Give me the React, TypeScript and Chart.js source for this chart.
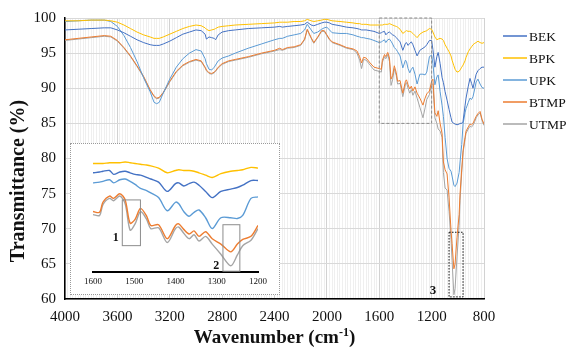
import React, { useEffect, useRef } from "react";
import { Chart, registerables } from "chart.js";

Chart.register(...registerables);

const SERIF = '"Liberation Serif", "Times New Roman", serif';

// Wavenumber (cm-1) sample positions
const wavenumbers = [
  4000, 3900, 3800, 3700, 3650, 3600, 3550, 3500, 3450, 3400,
  3350, 3320, 3300, 3280, 3250, 3200, 3150, 3100, 3050, 3000,
  2960, 2930, 2920, 2900, 2880, 2860, 2850, 2830, 2800, 2750,
  2700, 2600, 2500, 2400, 2360, 2340, 2300, 2250, 2200, 2170,
  2150, 2120, 2100, 2070, 2040, 2020, 2000, 1980, 1960, 1900,
  1850, 1800, 1770, 1750, 1735, 1720, 1700, 1670, 1640, 1600,
  1584, 1576, 1560, 1550, 1535, 1522, 1510, 1498, 1485, 1470,
  1460, 1441, 1420, 1400, 1392, 1380, 1367, 1355, 1343, 1327,
  1311, 1290, 1266, 1250, 1237, 1217, 1200, 1190, 1175, 1160,
  1150, 1135, 1120, 1110, 1097, 1082, 1067, 1052, 1044, 1030,
  1021, 1006, 990, 983, 970, 960, 945, 937, 920, 907,
  895, 884, 870, 860, 846, 830, 815, 800,
];

const BEK = [
  98.3, 98.4, 98.5, 98.6, 98.6, 98.3, 97.9, 97.4, 96.9, 96.5,
  96.2, 96.1, 96.1, 96.1, 96.3, 96.7, 97.2, 97.7, 98.0, 98.3,
  98.2, 97.7, 97.0, 97.3, 97.2, 97.1, 96.9, 97.6, 98.0, 98.2,
  98.3, 98.5, 98.6, 98.7, 98.8, 98.7, 98.8, 98.9, 99.0, 99.1,
  99.4, 99.0, 98.9, 99.1, 99.3, 99.4, 99.4, 99.3, 99.1, 98.9,
  98.7, 98.6, 98.5, 98.4, 98.3, 98.3, 98.3, 98.2, 98.1, 97.8,
  97.9, 98.0, 98.1, 97.6, 97.9, 98.0, 97.8, 97.6, 97.5, 97.2,
  97.0, 96.6, 95.4, 96.4, 96.5, 96.1, 96.4, 96.6, 96.2, 95.4,
  94.6, 95.4, 95.7, 95.9, 96.2, 96.8, 96.8, 95.5, 93.0, 94.5,
  95.1, 93.5, 91.5, 90.8, 89.5, 88.3, 87.0, 85.8, 85.2, 85.0,
  84.9, 84.8, 84.9, 85.0, 85.0, 85.3, 87.5, 88.6, 90.3, 91.4,
  90.7, 90.0, 91.2, 92.0, 92.5, 92.8, 93.0, 93.0,
];

const BPK = [
  99.6, 99.6, 99.7, 99.7, 99.6, 99.4, 99.0, 98.5, 98.0, 97.6,
  97.3, 97.1, 97.1, 97.1, 97.3, 97.7, 98.1, 98.5, 98.8, 99.0,
  98.9, 98.6, 98.4, 98.2, 98.3, 98.4, 98.5, 98.7, 98.8, 98.9,
  99.0, 99.1, 99.2, 99.3, 99.4, 99.4, 99.4, 99.5, 99.5, 99.6,
  99.8, 99.6, 99.5, 99.6, 99.7, 99.8, 99.8, 99.7, 99.6, 99.5,
  99.4, 99.3, 99.2, 99.2, 99.1, 99.1, 99.1, 99.0, 99.0, 99.0,
  99.0, 99.0, 99.1, 99.1, 99.1, 99.2, 99.1, 99.0, 98.9, 98.8,
  98.7, 98.4, 97.8, 98.1, 98.2, 98.1, 98.1, 98.0, 97.8, 97.5,
  97.2, 97.7, 98.0, 98.1, 98.2, 98.5, 98.4, 98.0, 97.3, 96.9,
  97.0, 97.1, 97.0, 96.8, 96.2, 95.7, 95.2, 94.6, 94.0, 93.2,
  92.7, 92.3, 92.4, 92.6, 93.0, 93.3, 93.9, 94.4, 95.2, 95.6,
  95.9, 96.2, 96.4, 96.5, 96.7, 96.5, 96.4, 96.5,
];

const UPK = [
  99.5, 99.6, 99.7, 99.7, 99.5, 98.8, 97.5, 95.8, 93.8, 91.5,
  89.5, 88.0, 87.8, 88.0, 89.3, 91.3, 93.0, 94.2, 95.0, 95.5,
  95.3, 94.2, 93.5, 92.7, 92.6, 93.0, 93.3, 93.9, 94.3, 94.6,
  95.0, 95.7, 96.3, 96.9, 97.1, 97.1, 97.4, 97.6, 97.8, 98.3,
  99.1, 98.3, 97.8, 98.0, 98.4, 98.6, 98.7, 98.3, 97.9, 97.8,
  97.8, 97.6, 97.4, 97.3, 97.2, 97.2, 97.1, 97.0, 96.8, 96.5,
  96.6, 96.7, 96.9, 96.5, 96.9, 97.0, 96.7, 96.3, 95.8, 95.5,
  95.2, 94.6, 92.9, 94.0, 93.8, 92.8, 92.2, 92.7, 93.0, 92.0,
  90.6, 92.0, 92.0, 91.9, 92.3, 94.5, 94.7, 93.5, 90.5, 91.6,
  91.9, 89.5, 87.5, 86.0, 83.0, 80.0, 78.6, 78.2, 77.5, 76.2,
  76.0, 76.5, 78.0, 79.5, 82.0, 84.9, 86.5, 87.1, 88.0, 88.6,
  88.4, 88.8, 90.0, 90.9, 91.3, 90.6, 90.1, 90.0,
];

const BTMP = [
  96.9, 97.1, 97.3, 97.5, 97.4, 96.8, 95.8, 94.6, 93.2, 91.7,
  89.8, 88.9, 88.6, 88.7, 89.4, 91.0, 92.4, 93.3, 93.8, 94.1,
  93.9, 93.0, 92.6, 92.2, 92.1, 92.3, 92.5, 93.0, 93.5, 93.9,
  94.1, 94.5, 95.0, 95.4, 95.7, 95.5, 95.8, 95.9, 96.2, 97.0,
  98.4, 97.2, 96.5, 97.3, 98.2, 98.2, 97.6, 97.0, 96.6, 96.2,
  95.8, 95.6, 95.3, 94.5, 93.6, 94.4, 94.3, 93.6, 93.0, 92.8,
  92.7, 94.0, 94.8, 94.5, 95.1, 94.3, 91.3, 91.8, 93.2, 92.2,
  91.0, 91.1, 89.3, 91.0, 91.2, 90.5, 89.9, 90.3, 89.6, 90.2,
  89.3, 88.6, 87.6, 88.6, 89.2, 89.6, 91.0, 91.3, 86.5, 86.0,
  86.8, 85.0, 83.5, 79.5, 78.4, 77.8, 74.5, 69.8, 67.9, 64.3,
  65.0, 68.8, 72.0, 75.0, 78.5, 81.1, 83.0, 83.9, 84.5, 84.9,
  84.8, 85.0, 85.6, 86.0, 86.4, 86.7, 85.6, 84.9,
];

const UTMP = [
  96.8, 97.0, 97.2, 97.4, 97.3, 96.7, 95.7, 94.5, 93.1, 91.6,
  89.7, 88.8, 88.5, 88.6, 89.3, 90.9, 92.3, 93.2, 93.7, 94.0,
  93.8, 92.9, 92.5, 92.1, 92.0, 92.2, 92.4, 92.9, 93.4, 93.8,
  94.0, 94.4, 94.9, 95.3, 95.5, 95.4, 95.7, 95.8, 96.1, 96.9,
  98.3, 97.1, 96.4, 97.2, 98.1, 98.1, 97.5, 96.9, 96.5, 96.1,
  95.7, 95.5, 95.0, 94.0, 92.8, 94.1, 94.0, 93.3, 92.6, 92.4,
  92.3, 93.7, 94.5, 94.2, 94.8, 93.8, 90.4, 91.2, 92.8, 91.8,
  90.6, 90.7, 88.8, 90.6, 90.8, 90.0, 89.3, 89.8, 89.0, 89.6,
  88.6, 87.3, 85.8, 87.2, 88.4, 89.1, 90.6, 90.6, 85.8, 85.0,
  84.2, 83.9, 83.0, 78.0, 75.8, 75.5, 72.5, 68.5, 65.5, 60.6,
  61.5, 66.0, 70.5, 74.0, 78.0, 80.8, 82.7, 83.6, 84.2, 84.6,
  84.5, 84.7, 85.3, 85.8, 86.2, 86.5, 85.4, 84.7,
];

const seriesNames = ["BEK", "BPK", "UPK", "BTMP", "UTMP"];
const seriesValues = [BEK, BPK, UPK, BTMP, UTMP];
const seriesColors = ["#4472C4", "#FFC000", "#5B9BD5", "#ED7D31", "#A5A5A5"];

const xTickLabels = [4000, 3600, 3200, 2800, 2400, 2000, 1600, 1200, 800];
const yTickLabels = [60, 65, 70, 75, 80, 85, 90, 95, 100];
const insetTickLabels = [1600, 1500, 1400, 1300, 1200];

// annotation regions (data units)
const zoomRegion = { x0: 1600, x1: 1200, y0: 85, y1: 100 };
const region3 = { x0: 1067, x1: 960, y0: 60.3, y1: 69.5, labelX: 1190, labelY: 61.2 };
const insetRegion1 = { x0: 1529, x1: 1485, y0: 88.4, y1: 94.3, labelX: 1545, labelY: 89.4 };
const insetRegion2 = { x0: 1285, x1: 1244, y0: 85.1, y1: 91.1, labelX: 1301, labelY: 85.8 };

function makeDatasets(filter: (x: number) => boolean, width: number, tension: number) {
  return seriesNames.map((name, i) => ({
    label: name,
    data: wavenumbers
      .map((x, j) => ({ x, y: seriesValues[i][j] }))
      .filter((p) => filter(p.x)),
    borderColor: seriesColors[i],
    backgroundColor: seriesColors[i],
    borderWidth: width,
    pointRadius: 0,
    fill: false,
    tension,
  }));
}

const mainDecor = {
  id: "mainDecor",
  afterDatasetsDraw(chart: any) {
    const { ctx, scales } = chart;
    const xs = scales.x;
    const ys = scales.y;
    ctx.save();
    // dashed zoom region
    ctx.strokeStyle = "#8a8a8a";
    ctx.lineWidth = 1;
    ctx.setLineDash([3, 2]);
    const zx0 = xs.getPixelForValue(zoomRegion.x0);
    const zx1 = xs.getPixelForValue(zoomRegion.x1);
    const zy0 = ys.getPixelForValue(zoomRegion.y1);
    const zy1 = ys.getPixelForValue(zoomRegion.y0);
    ctx.strokeRect(zx0, zy0, zx1 - zx0, zy1 - zy0);
    // dotted region 3
    ctx.strokeStyle = "#111";
    ctx.setLineDash([1.5, 1.5]);
    const rx0 = xs.getPixelForValue(region3.x0);
    const rx1 = xs.getPixelForValue(region3.x1);
    const ry0 = ys.getPixelForValue(region3.y1);
    const ry1 = ys.getPixelForValue(region3.y0);
    ctx.strokeRect(rx0, ry0, rx1 - rx0, ry1 - ry0);
    ctx.setLineDash([]);
    ctx.fillStyle = "#111";
    ctx.font = `bold 13px ${SERIF}`;
    ctx.textAlign = "center";
    ctx.textBaseline = "middle";
    ctx.fillText("3", xs.getPixelForValue(region3.labelX), ys.getPixelForValue(region3.labelY));

    // legend
    ctx.font = `13.5px ${SERIF}`;
    ctx.textAlign = "left";
    chart.data.datasets.forEach((ds: any, i: number) => {
      const y = 36 + i * 22;
      ctx.strokeStyle = ds.borderColor;
      ctx.lineWidth = 1.5;
      ctx.beginPath();
      ctx.moveTo(503, y);
      ctx.lineTo(527, y);
      ctx.stroke();
      ctx.fillStyle = "#111";
      ctx.fillText(ds.label, 529, y + 1);
    });

    // axis titles
    ctx.fillStyle = "#111";
    ctx.save();
    ctx.translate(19, 181);
    ctx.rotate(-Math.PI / 2);
    ctx.textAlign = "center";
    ctx.font = `bold 20px ${SERIF}`;
    ctx.fillText("Transmittance (%)", 0, 0);
    ctx.restore();

    const cx = (chart.chartArea.left + chart.chartArea.right) / 2;
    const base = 343;
    const p1 = "Wavenumber (cm";
    const p2 = "-1";
    const p3 = ")";
    ctx.textBaseline = "alphabetic";
    ctx.textAlign = "left";
    ctx.font = `bold 19px ${SERIF}`;
    const w1 = ctx.measureText(p1).width;
    const w3 = ctx.measureText(p3).width;
    ctx.font = `bold 12px ${SERIF}`;
    const w2 = ctx.measureText(p2).width;
    let x = cx - (w1 + w2 + w3) / 2;
    ctx.font = `bold 19px ${SERIF}`;
    ctx.fillText(p1, x, base);
    x += w1;
    ctx.font = `bold 12px ${SERIF}`;
    ctx.fillText(p2, x, base - 7);
    x += w2;
    ctx.font = `bold 19px ${SERIF}`;
    ctx.fillText(p3, x, base);
    ctx.restore();
  },
};

const insetDecor = {
  id: "insetDecor",
  afterDatasetsDraw(chart: any) {
    const { ctx, scales } = chart;
    const xs = scales.x;
    const ys = scales.y;
    ctx.save();
    ctx.strokeStyle = "#8c8c8c";
    ctx.lineWidth = 1;
    ctx.fillStyle = "#111";
    ctx.font = `bold 12px ${SERIF}`;
    ctx.textAlign = "center";
    ctx.textBaseline = "middle";
    [insetRegion1, insetRegion2].forEach((r, i) => {
      const x0 = xs.getPixelForValue(r.x0);
      const x1 = xs.getPixelForValue(r.x1);
      const y0 = ys.getPixelForValue(r.y1);
      const y1 = ys.getPixelForValue(r.y0);
      ctx.strokeRect(x0, y0, x1 - x0, y1 - y0);
      ctx.fillText(String(i + 1), xs.getPixelForValue(r.labelX), ys.getPixelForValue(r.labelY));
    });
    ctx.restore();
  },
};

export default function App() {
  const mainRef = useRef<HTMLCanvasElement | null>(null);
  const insetRef = useRef<HTMLCanvasElement | null>(null);

  useEffect(() => {
    document.body.style.margin = "0";
    Chart.defaults.font.family = SERIF;
    const tickFont = { family: SERIF, size: 15 };

    const main = new Chart(mainRef.current as HTMLCanvasElement, {
      type: "line",
      data: { datasets: makeDatasets(() => true, 1, 0) as any },
      options: {
        responsive: false,
        animation: false,
        devicePixelRatio: 1,
        layout: { padding: { top: 16, right: 83, left: 0, bottom: 0 } },
        plugins: { legend: { display: false }, tooltip: { enabled: false } },
        scales: {
          x: {
            type: "linear",
            reverse: true,
            min: 800,
            max: 4000,
            ticks: {
              stepSize: 20,
              autoSkip: false,
              maxRotation: 0,
              minRotation: 0,
              padding: 9,
              color: "#111",
              font: tickFont,
              callback: (v: any) => (xTickLabels.includes(Number(v)) ? String(v) : ""),
            },
            grid: {
              drawTicks: false,
              lineWidth: 1,
              color: (c: any) =>
                c.tick && xTickLabels.includes(c.tick.value) ? "#d2d2d2" : "#efefef",
            },
            border: { display: true, color: "#000", width: 1.5 },
            afterFit: (s: any) => {
              s.height = 50;
            },
          },
          y: {
            min: 60,
            max: 100,
            ticks: {
              stepSize: 5,
              padding: 9,
              color: "#111",
              font: tickFont,
              callback: (v: any) => (yTickLabels.includes(Number(v)) ? String(v) : ""),
            },
            grid: { drawTicks: false, color: "#d9d9d9", lineWidth: 1 },
            border: { display: true, color: "#000", width: 1.5 },
            afterFit: (s: any) => {
              s.width = 65;
            },
          },
        },
      } as any,
      plugins: [mainDecor],
    });

    const inset = new Chart(insetRef.current as HTMLCanvasElement, {
      type: "line",
      data: {
        datasets: makeDatasets((x) => x >= 1200 && x <= 1600, 1.4, 0.3) as any,
      },
      options: {
        responsive: false,
        animation: false,
        devicePixelRatio: 1,
        layout: { padding: { top: 4, right: 21, left: 22, bottom: 0 } },
        plugins: { legend: { display: false }, tooltip: { enabled: false } },
        scales: {
          x: {
            type: "linear",
            reverse: true,
            min: 1200,
            max: 1600,
            ticks: {
              stepSize: 100,
              autoSkip: false,
              maxRotation: 0,
              padding: 4,
              color: "#111",
              font: { family: SERIF, size: 9 },
              callback: (v: any) => (insetTickLabels.includes(Number(v)) ? String(v) : ""),
            },
            grid: { display: false, drawTicks: false },
            border: { display: true, color: "#000", width: 2 },
            afterFit: (s: any) => {
              s.height = 22;
            },
          },
          y: { display: false, min: 85, max: 101 },
        },
      } as any,
      plugins: [insetDecor],
    });

    return () => {
      main.destroy();
      inset.destroy();
    };
  }, []);

  return (
    <div style={{ position: "relative", width: 567, height: 349, background: "#fff" }}>
      <canvas ref={mainRef} width={567} height={349} style={{ display: "block" }} />
      <div
        style={{
          position: "absolute",
          left: 70,
          top: 143,
          width: 210,
          height: 152,
          boxSizing: "border-box",
          border: "1px dotted #9a9a9a",
          background: "#fff",
        }}
      >
        <canvas ref={insetRef} width={208} height={150} style={{ display: "block" }} />
      </div>
    </div>
  );
}
